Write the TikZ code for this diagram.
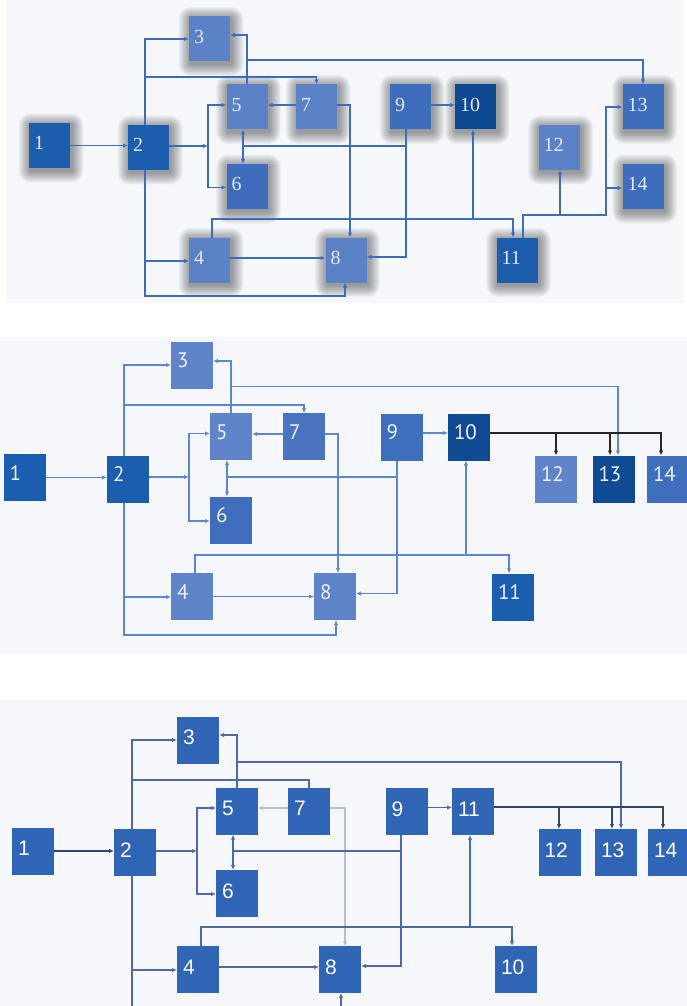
\documentclass[tikz,border=0pt]{standalone}
\usepackage{fontspec}
\newfontfamily\bookish{Liberation Serif}
\newfontfamily\myriadlike{PT Sans}
\newfontfamily\helvlike{Liberation Sans}
\usetikzlibrary{arrows.meta}

% top chart
\definecolor{aDark}{HTML}{1D5DAD}
\definecolor{aNavy}{HTML}{0D4A92}
\definecolor{aMid}{HTML}{3D6DBB}
\definecolor{aLight}{HTML}{5B81C7}
\definecolor{aLine}{HTML}{3E6CB9}
\definecolor{aText}{HTML}{E4E9F5}
% middle chart
\definecolor{bDark}{HTML}{1B5DAE}
\definecolor{bNavy}{HTML}{0E4B92}
\definecolor{bMid}{HTML}{3F6FBC}
\definecolor{bSoft}{HTML}{4A74C0}
\definecolor{bLight}{HTML}{5F84C9}
\definecolor{bLine}{HTML}{5C87CC}
\definecolor{bInk}{HTML}{262626}
\definecolor{bText}{HTML}{EEF2FA}
% bottom chart
\definecolor{cBox}{HTML}{3064B4}
\definecolor{cLine}{HTML}{5069A6}
\definecolor{cPale}{HTML}{B3BDD3}
\definecolor{cInk}{HTML}{33446E}
% panel ground
\definecolor{panelbg}{HTML}{F5F7FA}

\pgfdeclarelayer{ground}
\pgfdeclarelayer{halo}
\pgfsetlayers{ground,halo,main}

\begin{document}
\begin{tikzpicture}[x=1pt,y=-1pt,
  boxA/.style={minimum width=41pt, minimum height=45pt, inner xsep=5pt, inner ysep=0pt,
    text width=31pt, align=left, outer sep=0pt, text depth=5pt, text=aText,
    font=\bookish\fontsize{20}{20}\selectfont},
  boxB/.style={minimum width=42pt, minimum height=47pt, inner xsep=6pt, inner ysep=0pt,
    text width=30pt, align=left, outer sep=0pt, text depth=9pt, text=bText,
    font=\myriadlike\fontsize{21}{21}\selectfont},
  boxC/.style={minimum width=42pt, minimum height=47pt, inner xsep=6pt, inner ysep=0pt,
    text width=30pt, align=left, outer sep=0pt, text depth=5pt, text=white, fill=cBox,
    font=\helvlike\fontsize{21}{21}\selectfont},
  lnA/.style={draw=aLine, line width=1.4pt},
  arA/.style={lnA, -{Latex[length=5pt,width=4.4pt]}},
  arAA/.style={lnA, {Latex[length=5pt,width=4.4pt]}-{Latex[length=5pt,width=4.4pt]}},
  lnB/.style={draw=bLine, line width=1.4pt},
  arB/.style={lnB, -{Latex[length=5pt,width=4.4pt]}},
  arBB/.style={lnB, {Latex[length=5pt,width=4.4pt]}-{Latex[length=5pt,width=4.4pt]}},
  inkB/.style={draw=bInk, line width=1.2pt},
  arInkB/.style={inkB, -{Latex[length=5pt,width=4.4pt]}},
  lnC/.style={draw=cLine, line width=1.4pt},
  arC/.style={lnC, -{Latex[length=5pt,width=4.4pt]}},
  arCC/.style={lnC, {Latex[length=5pt,width=4.4pt]}-{Latex[length=5pt,width=4.4pt]}},
  paleC/.style={draw=cPale, line width=1.3pt, -{Latex[length=5pt,width=4.4pt]}},
  inkC/.style={draw=cInk, line width=1.3pt},
  arInkC/.style={inkC, -{Latex[length=5pt,width=4.4pt]}},
  haloring/.style={fill=black, opacity=0.035},
]
\clip (0,0) rectangle (687,1006);
\begin{pgfonlayer}{ground}
\fill[white] (0,0) rectangle (687,1006);
\fill[panelbg] (6,0) rectangle (684,303);
\fill[panelbg] (0,337) rectangle (687,654);
\fill[panelbg] (0,700) rectangle (687,1006);
\end{pgfonlayer}

% ---------------- top chart ----------------
\node[boxA, fill=aDark]  (a1)  at (49.5,145.5) {1};
\node[boxA, fill=aDark]  (a2)  at (148.5,147.5) {2};
\node[boxA, fill=aLight] (a3)  at (209.5,39) {3};
\node[boxA, fill=aLight] (a5)  at (247,107) {5};
\node[boxA, fill=aLight] (a7)  at (316.5,107) {7};
\node[boxA, fill=aMid]   (a6)  at (247,186.5) {6};
\node[boxA, fill=aLight] (a4)  at (209.5,260) {4};
\node[boxA, fill=aLight] (a8)  at (346,260) {8};
\node[boxA, fill=aMid]   (a9)  at (410.5,107) {9};
\node[boxA, fill=aNavy]  (a10) at (475.5,107) {10};
\node[boxA, fill=aLight] (a12) at (559,147.5) {12};
\node[boxA, fill=aMid]   (a13) at (643,107) {13};
\node[boxA, fill=aMid]   (a14) at (643,186.5) {14};
\node[boxA, fill=aDark]  (a11) at (517,260) {11};

% soft drop shadows behind the top chart boxes
\begin{pgfonlayer}{halo}
\foreach \n in {a1,a2,a3,a4,a5,a6,a7,a8,a9,a10,a11,a12,a13,a14}
  \foreach \r in {1,...,12}
    \fill[haloring, rounded corners=\r pt]
      ([xshift=-\r pt+1.5pt, yshift=\r pt-2.5pt]\n.north west) rectangle
      ([xshift=\r pt+1.5pt, yshift=-\r pt-2.5pt]\n.south east);
\end{pgfonlayer}

\coordinate (A27)   at (145,77);
\coordinate (A2j)   at (208,146);
\coordinate (A5j)   at (247,60);
\coordinate (A9j)   at (406,146);
\coordinate (A56)   at (243,146);
\coordinate (A2b)   at (145,296);
\coordinate (A24)   at (145,261);
\coordinate (A4t)   at (212,219);
\coordinate (A410)  at (473,219);
\coordinate (A11t)  at (523,215);
\coordinate (A11r)  at (606,215);
\coordinate (A1112) at (560,215);
\coordinate (A1114) at (606,188);

\draw[arA] (a1.east) -- (a1.east -| a2.west);
\draw[arA] ([xshift=-3.5pt]a2.north) |- (a3.west);
\draw[arA] (A27) -| (a7.north);
\draw[arA] (a2.east |- A2j) -- (A2j);
\draw[arA] (A2j) |- ([yshift=2pt]a5.west);
\draw[arA] (A2j) |- ([yshift=-1pt]a6.west);
\draw[arA] (a5.north) |- ([yshift=4pt]a3.east);
\draw[arA] (A5j) -| (a13.north);
\draw[arA] ([yshift=2pt]a7.west) -- ([yshift=2pt]a5.east);
\draw[arA] ([yshift=2pt]a7.east) -| ([xshift=4pt]a8.north);
\draw[arA] ([yshift=2pt]a9.east) -- ([yshift=2pt]a10.west);
\draw[arA] ([xshift=-4.5pt]a9.south) |- ([yshift=3pt]a8.east);
\draw[lnA] (A9j) -- (A56);
\draw[arAA] ([xshift=-4pt]a5.south) -- ([xshift=-4pt]a6.north);
\draw[arA] ([xshift=-3.5pt]a2.south) |- (A2b) -| ([xshift=-1pt]a8.south);
\draw[arA] (A24) -- (A24 -| a4.west);
\draw[arA] ([yshift=2pt]a4.east) -- ([yshift=2pt]a8.west);
\draw[arA] (A4t |- a4.north) -- (A4t) -| ([xshift=-4pt]a11.north);
\draw[arA] (A410) -- (A410 |- a10.south);
\draw[arA] (A11t |- a11.north) -- (A11t) -- (A11r) |- (a13.west);
\draw[arA] (A1112) -- (A1112 |- a12.south);
\draw[arA] (A1114) -- (A1114 -| a14.west);

% ---------------- middle chart ----------------
\node[boxB, fill=bDark]  (b1)  at (24.5,477.5) {1};
\node[boxB, fill=bDark]  (b2)  at (128,479) {2};
\node[boxB, fill=bLight] (b3)  at (192,365) {3};
\node[boxB, fill=bLight] (b5)  at (231,436.5) {5};
\node[boxB, fill=bSoft]  (b7)  at (304,436.5) {7};
\node[boxB, fill=bMid]   (b6)  at (231,520) {6};
\node[boxB, fill=bLight] (b4)  at (192,596.5) {4};
\node[boxB, fill=bLight] (b8)  at (335,596.5) {8};
\node[boxB, fill=bMid]   (b9)  at (401.5,437) {9};
\node[boxB, fill=bNavy]  (b10) at (469,437) {10};
\node[boxB, fill=bLight] (b12) at (556,479) {12};
\node[boxB, fill=bNavy]  (b13) at (613.5,479) {13};
\node[boxB, fill=bMid]   (b14) at (668,479) {14};
\node[boxB, fill=bDark]  (b11) at (513,597) {11};

\coordinate (B27)   at (124,405);
\coordinate (B2j)   at (189,477);
\coordinate (B5j)   at (231,386.5);
\coordinate (B9j)   at (397,477);
\coordinate (B56)   at (227,477);
\coordinate (B2b)   at (124,635);
\coordinate (B24)   at (124,597);
\coordinate (B4t)   at (195,555);
\coordinate (B410)  at (466,555);
\coordinate (B10r)  at (661,433);
\coordinate (B1012) at (556,433);
\coordinate (B1013) at (610,433);

\draw[arB] (b1.east) -- (b1.east -| b2.west);
\draw[arB] ([xshift=-4pt]b2.north) |- (b3.west);
\draw[arB] (B27) -| (b7.north);
\draw[arB] (b2.east |- B2j) -- (B2j);
\draw[arB] (B2j) |- ([yshift=3pt]b5.west);
\draw[arB] (B2j) |- ([yshift=-1pt]b6.west);
\draw[arB] (b5.north) |- ([yshift=4pt]b3.east);
\draw[arB] (B5j) -| ([xshift=4.5pt]b13.north);
\draw[arB] ([yshift=2.5pt]b7.west) -- ([yshift=2.5pt]b5.east);
\draw[arB] ([yshift=2.5pt]b7.east) -| ([xshift=3pt]b8.north);
\draw[arB] ([yshift=4pt]b9.east) -- ([yshift=4pt]b10.west);
\draw[arB] ([xshift=-4.5pt]b9.south) |- ([yshift=3pt]b8.east);
\draw[lnB] (B9j) -- (B56);
\draw[arBB] ([xshift=-4pt]b5.south) -- ([xshift=-4pt]b6.north);
\draw[arB] ([xshift=-4pt]b2.south) |- (B2b) -| ([xshift=1pt]b8.south);
\draw[arB] (B24) -- (B24 -| b4.west);
\draw[arB] (b4.east) -- (b8.west);
\draw[arB] (B4t |- b4.north) -- (B4t) -| ([xshift=-4pt]b11.north);
\draw[arB] (B410) -- (B410 |- b10.south);
\draw[arInkB] ([yshift=4pt]b10.east) -- (B10r) -- ([xshift=-7pt]b14.north);
\draw[arInkB] (B1012) -- (B1012 |- b12.north);
\draw[arInkB] (B1013) -- (B1013 |- b13.north);

% ---------------- bottom chart ----------------
\node[boxC] (c1)  at (33,851) {1};
\node[boxC] (c2)  at (135,852.5) {2};
\node[boxC] (c3)  at (198,740) {3};
\node[boxC] (c5)  at (237,811) {5};
\node[boxC] (c7)  at (309,811) {7};
\node[boxC] (c6)  at (237,893.5) {6};
\node[boxC] (c4)  at (198,969.5) {4};
\node[boxC] (c8)  at (340,969.5) {8};
\node[boxC] (c9)  at (406.5,811.5) {9};
\node[boxC] (c11) at (473,811.5) {11};
\node[boxC] (c12) at (559.5,852.5) {12};
\node[boxC] (c13) at (616,852.5) {13};
\node[boxC] (c14) at (669,852.5) {14};
\node[boxC] (c10) at (516,969.5) {10};

\coordinate (C27)   at (132,780);
\coordinate (C2j)   at (197,851);
\coordinate (C5j)   at (237,762);
\coordinate (C9j)   at (401,851);
\coordinate (C56)   at (233,851);
\coordinate (C2b)   at (132,1016);
\coordinate (C24)   at (132,970);
\coordinate (C4t)   at (201,927);
\coordinate (C411)  at (470,927);
\coordinate (C11r)  at (663,807);
\coordinate (C1112) at (559,807);
\coordinate (C1113) at (612,807);

\draw[arInkC] (c1.east) -- (c1.east -| c2.west);
\draw[arC] ([xshift=-3pt]c2.north) |- (c3.west);
\draw[lnC] (C27) -| (c7.north);
\draw[arC] (c2.east |- C2j) -- (C2j);
\draw[arC] (C2j) |- ([yshift=3pt]c5.west);
\draw[arC] (C2j) |- ([yshift=-0.5pt]c6.west);
\draw[arC] (c5.north) |- ([yshift=5pt]c3.east);
\draw[arC] (C5j) -| ([xshift=5pt]c13.north);
\draw[paleC] ([yshift=3pt]c7.west) -- ([yshift=3pt]c5.east);
\draw[paleC] ([yshift=3pt]c7.east) -| ([xshift=5pt]c8.north);
\draw[arC] ([yshift=4pt]c9.east) -- ([yshift=4pt]c11.west);
\draw[arC] ([xshift=-5.5pt]c9.south) |- ([yshift=3.5pt]c8.east);
\draw[lnC] (C9j) -- (C56);
\draw[arCC] ([xshift=-4pt]c5.south) -- ([xshift=-4pt]c6.north);
\draw[arC] ([xshift=-3pt]c2.south) |- (C2b) -| ([xshift=1pt]c8.south);
\draw[arC] (C24) -- (C24 -| c4.west);
\draw[arC] ([yshift=2.5pt]c4.east) -- ([yshift=2.5pt]c8.west);
\draw[arC] (C4t |- c4.north) -- (C4t) -| ([xshift=-4pt]c10.north);
\draw[arC] (C411) -- (C411 |- c11.south);
\draw[arInkC] ([yshift=4.5pt]c11.east) -- (C11r) -- ([xshift=-6pt]c14.north);
\draw[arInkC] (C1112) -- (C1112 |- c12.north);
\draw[arInkC] (C1113) -- (C1113 |- c13.north);
\end{tikzpicture}
\end{document}
